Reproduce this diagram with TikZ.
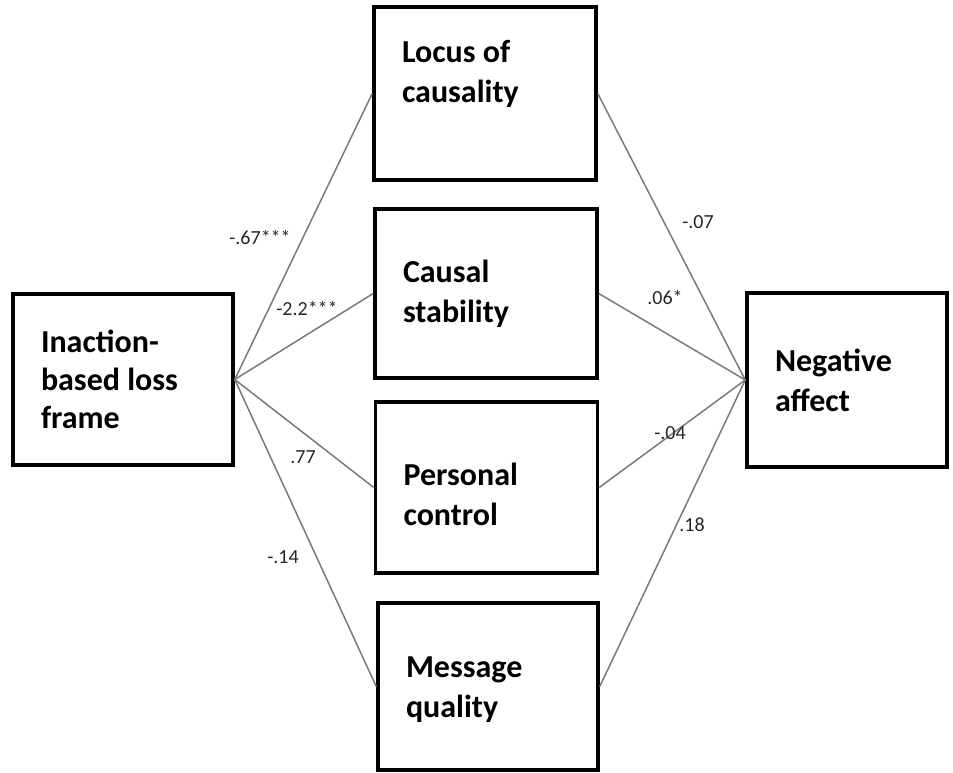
\documentclass[tikz,border=0pt]{standalone}
\usepackage{fontspec}
\setmainfont{Carlito}

\definecolor{edgegray}{HTML}{7A7A7A}
\definecolor{coefgray}{HTML}{262626}

\begin{document}
\begin{tikzpicture}[x=1pt,y=-1pt,
  box/.style={draw=black,line width=3.5pt,align=flush left,inner xsep=28pt,minimum width=222pt,text width=166pt,font=\fontsize{32}{40}\selectfont\bfseries},
  edge/.style={draw=edgegray,line width=1.5pt},
  coef/.style={text=coefgray,inner sep=1pt,font=\fontsize{20}{24}\selectfont}]

\useasboundingbox (0,0) rectangle (953,773);

\node[box,minimum width=220pt,text width=164pt,minimum height=171pt,font=\fontsize{32}{38}\selectfont\bfseries] (frame) at (123,379.5) {Inaction-\\based loss\\frame};
\node[box,minimum height=173pt,text height=24pt,text depth=86pt] (locus) at (485,93.5) {Locus of\\causality};
\node[box,minimum height=169pt] (stab) at (486,293.5) {Causal\\stability};
\node[box,minimum height=171pt,text height=43pt,text depth=47pt] (control) at (486.5,487.5) {Personal\\control};
\node[box,minimum width=220pt,text width=164pt,minimum height=167pt,text height=29pt,text depth=47pt] (quality) at (488,686.5) {Message\\quality};
\node[box,minimum width=200pt,text width=144pt,minimum height=174pt] (affect) at (847,380) {Negative\\affect};

\foreach \m in {locus,stab,control,quality}
  \draw[edge] (frame.east) -- (\m.west) (\m.east) -- (affect.west);

\node[coef] (c1) at (260,237) {-.67***};
\node[coef] (c2) at (307,308) {-2.2***};
\node[coef] (c3) at (303,457) {.77};
\node[coef] (c4) at (283,557) {-.14};
\node[coef] (c5) at (698,222) {-.07};
\node[coef] (c6) at (665,297) {.06*};
\node[coef] (c7) at (670,433) {-.04};
\node[coef] (c8) at (692,525) {.18};
\end{tikzpicture}
\end{document}
